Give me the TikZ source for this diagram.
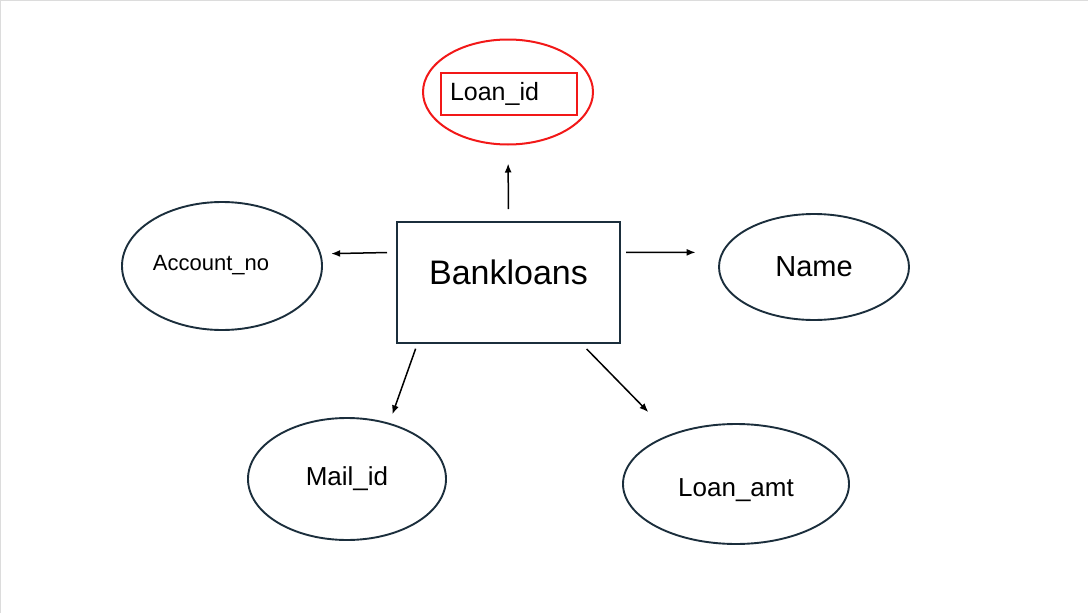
\documentclass[tikz,border=0pt]{standalone}
\usepackage{fontspec}
\setmainfont{Liberation Sans}
\usetikzlibrary{arrows.meta,shapes.geometric}
\definecolor{bkInk}{HTML}{1B2E3C}
\definecolor{bkRed}{HTML}{F21818}
\definecolor{bkFrame}{HTML}{DCDCDC}
\tikzset{
    >=Latex,
    entity/.style={draw=bkInk, line width=2pt, rectangle, minimum width=223pt, minimum height=121pt, font=\fontsize{34}{40}\selectfont, text height=25pt, text depth=20.5pt},
    attr/.style={draw=bkInk, line width=1.9pt, ellipse, inner sep=0pt, text=black},
    keyattr/.style={draw=bkRed, line width=2pt, ellipse, inner sep=0pt, minimum width=170pt, minimum height=105pt},
    keybox/.style={draw=bkRed, line width=2pt, rectangle, minimum width=136pt, minimum height=42pt, text width=118pt, inner xsep=9pt, align=left, font=\fontsize{25}{30}\selectfont},
    arrow/.style={-{Latex[length=9pt,width=7pt]}, line width=1.5pt, draw=black}
}
\begin{document}
\begin{tikzpicture}[x=1pt, y=-1pt]
\useasboundingbox (0,0) rectangle (1088,613);
\draw[bkFrame, line width=1pt] (0.5,613) -- (0.5,0.5) -- (1088,0.5);
% entity
\node[entity] (bank) at (508.5,282.5) {Bankloans};
% attributes
\node[keyattr] (loanid) at (508,92) {};
\node[keybox] (loanidbox) at (509,94) {Loan\_id};
\node[attr, minimum width=200pt, minimum height=128pt, font=\fontsize{22}{26}\selectfont, text depth=6pt] (acct) at (222,266) {Account\_no\kern22pt};
\node[attr, minimum width=190pt, minimum height=106pt, font=\fontsize{29}{34}\selectfont] (name) at (814,267) {Name};
\node[attr, minimum width=198pt, minimum height=122pt, font=\fontsize{26}{30}\selectfont] (mail) at (347,479) {Mail\_id};
\node[attr, minimum width=226pt, minimum height=120pt, font=\fontsize{26}{30}\selectfont, text depth=0pt, text height=24pt] (amt) at (736,484) {Loan\_amt};
% arrows
\draw[arrow, shorten <=12pt, shorten >=18pt] (bank.north) -- (loanid.south);
\draw[arrow, shorten <=9pt, shorten >=10pt] (bank.165) -- (acct.7);
\draw[arrow, shorten <=5pt, shorten >=26pt] (bank.15) -- (name.171);
\draw[arrow, shorten <=5pt, shorten >=9pt] (bank.214) -- (mail.53);
\draw[arrow, shorten <=7pt, shorten >=31pt] (bank.320) -- (amt.143);
\end{tikzpicture}
\end{document}
